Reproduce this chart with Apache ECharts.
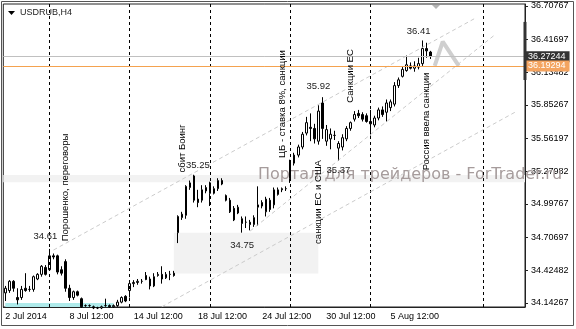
<!DOCTYPE html>
<html><head><meta charset="utf-8">
<script src="https://cdn.jsdelivr.net/npm/echarts@6/dist/echarts.min.js"></script>
<style>html,body{margin:0;padding:0;background:#fff;}#c{width:576px;height:329px;}</style>
</head><body><div id="c"></div>
<script>
// ---- data (USDRUB, H4) ----
const opens  = [34.23,34.25,34.33,34.19,34.19,34.27,34.26,34.26,34.35,34.39,34.45,34.43,34.55,34.55,34.43,34.50,34.27,34.19,34.24,34.18,
                34.12,34.12,34.11,34.10,34.10,34.12,34.12,34.11,34.12,34.15,34.20,34.25,34.31,34.32,34.33,34.38,34.35,34.29,34.38,34.39,
                34.36,34.39,34.40,34.75,34.88,34.90,35.14,35.24,35.04,35.03,35.11,35.18,35.09,35.13,35.20,35.07,35.03,34.96,34.92,34.87,
                34.84,34.84,34.82,34.97,35.01,34.93,35.03,34.99,35.08,35.12,35.13,35.22,35.35,35.42,35.49,35.61,35.66,35.65,35.54,35.87,
                35.54,35.56,35.59,35.48,35.49,35.56,35.65,35.73,35.78,35.77,35.76,35.71,35.68,35.74,35.81,35.79,35.83,35.86,36.02,36.10,
                36.15,36.19,36.17,36.18,36.21,36.34,36.31];
const closes = [34.27,34.33,34.27,34.17,34.26,34.25,34.26,34.37,34.39,34.46,34.39,34.55,34.54,34.41,34.40,34.27,34.19,34.24,34.21,34.11,
                34.12,34.12,34.10,34.10,34.11,34.12,34.11,34.12,34.15,34.19,34.16,34.31,34.32,34.33,34.33,34.345,34.29,34.37,34.39,34.35,
                34.39,34.39,34.38,34.89,34.91,35.15,35.18,35.03,35.01,35.12,35.14,35.09,35.13,35.20,35.17,35.03,34.93,34.86,34.97,34.83,
                34.84,34.82,34.88,34.99,34.98,35.04,34.95,35.12,35.12,35.13,35.13,35.36,35.42,35.49,35.60,35.70,35.65,35.56,35.80,35.65,
                35.64,35.60,35.59,35.52,35.57,35.65,35.70,35.77,35.76,35.73,35.71,35.69,35.74,35.81,35.77,35.87,35.88,36.02,36.07,36.16,
                36.20,36.17,36.19,36.21,36.34,36.32,36.272];
const lows   = [34.16,34.23,34.24,34.13,34.17,34.24,34.24,34.24,34.34,34.37,34.38,34.42,34.52,34.39,34.38,34.24,34.16,34.17,34.20,34.10,
                34.11,34.11,34.09,34.09,34.09,34.11,34.10,34.10,34.11,34.14,34.15,34.19,34.28,34.30,34.31,34.34,34.26,34.28,34.37,34.31,
                34.35,34.34,34.37,34.66,34.86,34.87,35.12,35.01,34.97,35.01,35.09,34.98,35.08,35.11,35.16,35.02,34.92,34.85,34.91,34.75,
                34.79,34.77,34.80,34.81,34.96,34.89,34.93,34.96,35.07,35.10,35.11,35.18,35.33,35.40,35.47,35.59,35.54,35.52,35.51,35.56,
                35.50,35.47,35.55,35.37,35.46,35.54,35.63,35.71,35.74,35.71,35.70,35.59,35.66,35.72,35.75,35.71,35.80,35.84,36.00,36.09,
                36.14,36.16,36.14,36.16,36.19,36.26,36.25];
const highs  = [34.29,34.34,34.34,34.27,34.29,34.40,34.29,34.38,34.40,34.47,34.47,34.61,34.57,34.56,34.46,34.52,34.30,34.25,34.25,34.19,
                34.13,34.13,34.12,34.11,34.12,34.18,34.13,34.13,34.17,34.20,34.21,34.34,34.34,34.35,34.35,34.41,34.37,34.40,34.41,34.46,
                34.41,34.42,34.42,34.90,34.93,35.16,35.20,35.25,35.12,35.16,35.16,35.19,35.15,35.22,35.22,35.08,35.05,34.98,34.99,34.89,
                34.89,34.86,34.90,35.15,35.03,35.06,35.05,35.14,35.14,35.14,35.15,35.38,35.44,35.51,35.62,35.75,35.78,35.69,35.85,35.92,
                35.68,35.65,35.63,35.54,35.60,35.67,35.71,35.80,35.81,35.79,35.78,35.81,35.76,35.83,35.84,35.90,35.90,36.05,36.09,36.18,
                36.28,36.22,36.23,36.26,36.41,36.39,36.32];
const totalSlots = 130;                 // bars + empty future space
const xTickLabels = ['2 Jul 2014','8 Jul 12:00','14 Jul 12:00','18 Jul 12:00','24 Jul 12:00','30 Jul 12:00','5 Aug 12:00'];
const xTickStep = 16;
const yTickLabels = [36.70767,36.41697,36.13482,35.85267,35.56197,35.27982,34.99767,34.70697,34.42482,34.14267];
const separators = [11,31,51,71,91,119];
const bidPrice = 36.27244;
const linePrice = 36.19294;
const noteTexts = ['Порошенко, переговоры','сбит Боинг','ЦБ - ставка 8%, санкции','санкции ЕС и США','Санкции ЕС','Россия ввела санкции'];
const tagTexts = ['34.61','35.25','34.75','35.92','35.37','36.41'];
// drawn objects (bar index, price)
const channelLines = [[[11.5,34.60],[116.9,36.60]], [[38.7,34.11],[127.4,35.79]], [[61.2,34.764],[121.9,36.459]]];
const thickLine = [[71.2,34.112],[129.9,34.479]];
const zigzagIdx = [106.5,109.4,112.5];
const zigzagPrice = [36.19,36.40,36.19];
const gapBox = [[42,34.749],[78,34.398]];
const lowBox = [[-0.3,34.14267],[27.4,34.1081]];
const bandBox = [35.247,35.186];
const scaleMarker = [36.57,36.068];
// ---- layout ----
const noteAnchors = [[15.2,35.14],[44.05,35.477],[69.2,35.861],[78.2,35.015],[85.9,36.103],[104.7,35.71]];
const tagAnchors = [[9.7,34.721],[48.05,35.334],[58.9,34.643],[78.1,36.016],[83.05,35.291],[102.9,36.487]];
const FONT = 'Liberation Sans';

const cats = Array.from({length: totalSlots}, (_, i) => String(i));
const candles = opens.map((o, i) => [o, closes[i], lows[i], highs[i]]);
const isTick = (i) => i % xTickStep === 0 && i / xTickStep < xTickLabels.length;

const chart = echarts.init(document.getElementById('c'));
chart.setOption({
  animation: false,
  textStyle: {fontFamily: FONT},
  grid: {left: 3.3, top: 4, right: 51, bottom: 22, show: true, borderColor: '#222', borderWidth: 1},
  xAxis: {
    type: 'category', data: cats, boundaryGap: true,
    axisLine: {lineStyle: {color: '#222'}},
    axisTick: {interval: (i) => isTick(i), alignWithLabel: true, length: 3, lineStyle: {color: '#222'}},
    axisLabel: {interval: (i) => isTick(i), formatter: (v, i) => xTickLabels[i / xTickStep], align: 'left',
                fontSize: 9, color: '#000', margin: 5, fontFamily: FONT},
    splitLine: {show: false}
  },
  yAxis: {
    type: 'value', position: 'right', min: 34.1081, max: 36.7247,
    splitLine: {show: false},
    axisLine: {show: true, lineStyle: {color: '#222'}},
    axisTick: {show: true, customValues: yTickLabels, length: 3, lineStyle: {color: '#222'}},
    axisLabel: {customValues: yTickLabels, formatter: (v) => v.toFixed(5), fontSize: 9, color: '#000', margin: 6, fontFamily: FONT}
  },
  graphic: [
    {id: 'frame', type: 'rect', shape: {x: 1.5, y: 1.5, width: 572, height: 324}, style: {fill: 'none', stroke: '#555', lineWidth: 1}, z: 10},
    {id: 'menu', type: 'polygon', shape: {points: [[8, 11], [15, 11], [11.5, 15]]}, style: {fill: '#000'}, z: 10},
    {id: 'title', type: 'text', left: 20, top: 8, style: {text: 'USDRUB,H4', fill: '#222', font: '9px "Liberation Sans"'}, z: 10},
    {id: 'shift', type: 'polygon', shape: {points: [[432, 5], [440, 5], [436, 9]]}, style: {fill: '#b4b4b4'}, z: 10},
    {id: 'wm', type: 'text', left: 258, top: 167, style: {text: 'Портал для трейдеров - ForTrader.ru', fill: '#a69c9c', font: '16px "DejaVu Sans"'}, z: 1.5}
  ],
  series: [
    {
      type: 'line', data: [], z: 1, silent: true,
      markArea: {silent: true, data: [
        [{yAxis: bandBox[0], itemStyle: {color: '#f2f2f2'}}, {yAxis: bandBox[1]}],
        [{coord: gapBox[0], itemStyle: {color: '#f2f2f2'}}, {coord: gapBox[1]}],
        [{coord: lowBox[0], itemStyle: {color: '#aeeaea'}}, {coord: lowBox[1]}]
      ]},
      markLine: {silent: true, symbol: ['none', 'none'], label: {show: false}, data: [
        ...separators.map(i => ({xAxis: i, lineStyle: {type: [3, 3], color: '#000', width: 1}})),
        ...channelLines.map(l => [{coord: l[0], lineStyle: {type: [4, 3], color: '#cbcbcb', width: 1}}, {coord: l[1]}]),
        [{coord: thickLine[0], lineStyle: {type: 'solid', color: '#cacaca', width: 2.5}}, {coord: thickLine[1]}]
      ]}
    },
    {
      type: 'line', z: 2, silent: true, symbol: 'none',
      data: zigzagIdx.map((x, i) => [x, zigzagPrice[i]]),
      lineStyle: {color: '#cfcfcf', width: 4}
    },
    {
      type: 'candlestick', data: candles, barWidth: 2, z: 3, silent: true,
      itemStyle: {color: '#fff', color0: '#000', borderColor: '#000', borderColor0: '#000', borderWidth: 1},
      markLine: {silent: true, symbol: ['none', 'none'], data: [
        {yAxis: bidPrice, lineStyle: {type: 'solid', color: '#c0c0c0', width: 1},
         label: {show: true, position: 'end', distance: 0, formatter: bidPrice.toFixed(5), color: '#fff', backgroundColor: '#333',
                 padding: [1, 4, 1, 3], fontSize: 9, fontFamily: FONT}},
        {yAxis: linePrice, lineStyle: {type: 'solid', color: '#f4a24f', width: 1},
         label: {show: true, position: 'end', distance: 0, formatter: linePrice.toFixed(5), color: '#fff', backgroundColor: '#f4a460',
                 padding: [1, 4, 1, 3], fontSize: 9, fontFamily: FONT}}
      ]},
      markPoint: {silent: true, symbol: 'circle', symbolSize: 0, data: [
        ...noteTexts.map((t, i) => ({coord: noteAnchors[i], label: {show: true, position: 'inside', formatter: t, rotate: 90,
                 color: '#000', fontSize: 9.5, fontFamily: FONT}})),
        ...tagTexts.map((t, i) => ({coord: tagAnchors[i], label: {show: true, position: 'inside', formatter: t,
                 color: '#222', fontSize: 9.5, fontFamily: FONT}}))
      ]}
    }
  ]
});
// dark marker bar on the price scale
const yTop = chart.convertToPixel({yAxisIndex: 0}, scaleMarker[0]);
const yBot = chart.convertToPixel({yAxisIndex: 0}, scaleMarker[1]);
const xAxisEnd = chart.convertToPixel({xAxisIndex: 0}, totalSlots - 1) + 2;
chart.setOption({graphic: [{id: 'marker', type: 'rect', shape: {x: xAxisEnd - 1.5, y: yTop, width: 3, height: yBot - yTop}, style: {fill: '#333'}, z: 11}]});
</script></body></html>
